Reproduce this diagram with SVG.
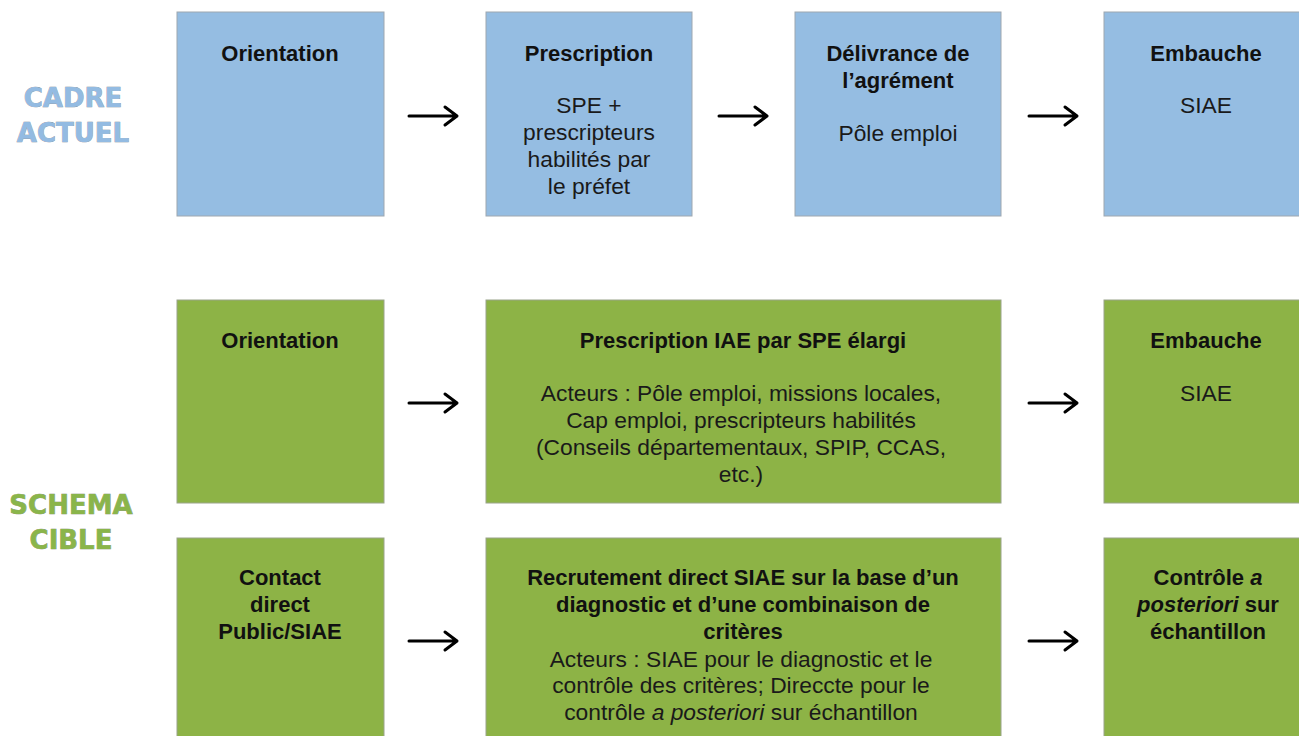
<svg xmlns="http://www.w3.org/2000/svg" width="1299" height="736" viewBox="0 0 1299 736">
<style>
.blue{fill:#95bde2;stroke:#9ea7b0;stroke-width:1}
.green{fill:#8db346;stroke:#9aa48a;stroke-width:1}
.t{font-family:"Liberation Sans",Arial,sans-serif;font-size:22.8px;fill:#1a1a1a;text-anchor:middle}
.b{font-weight:bold;font-size:22px;fill:#111}
.lab{font-family:"DejaVu Sans","Liberation Sans",sans-serif;font-weight:bold;font-size:26px;text-anchor:middle;stroke-width:0.6px;paint-order:stroke}
.arr{fill:none;stroke:#000;stroke-width:3;stroke-linecap:round;stroke-linejoin:round}
</style>
<rect width="1299" height="736" fill="#fff"/>
<g id="labels">
<text class="lab" x="73" y="107" fill="#93bbe2" stroke="#7d8a97">CADRE</text>
<text class="lab" x="73" y="142" fill="#93bbe2" stroke="#7d8a97">ACTUEL</text>
<text class="lab" x="71" y="514" fill="#8ab54a" stroke="#7d8a6a">SCHEMA</text>
<text class="lab" x="71" y="549" fill="#8ab54a" stroke="#7d8a6a">CIBLE</text>
</g>
<g id="n1">
<rect class="blue" x="177" y="12" width="207" height="204"/>
<text class="t b" x="280" y="61">Orientation</text>
</g>
<g id="n2">
<rect class="blue" x="486" y="12" width="206" height="204"/>
<text class="t b" x="589" y="61">Prescription</text>
<text class="t" x="589" y="113">SPE +</text>
<text class="t" x="589" y="140">prescripteurs</text>
<text class="t" x="589" y="167">habilités par</text>
<text class="t" x="589" y="194">le préfet</text>
</g>
<g id="n3">
<rect class="blue" x="795" y="12" width="206" height="204"/>
<text class="t b" x="898" y="61">Délivrance de</text>
<text class="t b" x="898" y="88">l’agrément</text>
<text class="t" x="898" y="141">Pôle emploi</text>
</g>
<g id="n4">
<rect class="blue" x="1104" y="12" width="210" height="204"/>
<text class="t b" x="1206" y="61">Embauche</text>
<text class="t" x="1206" y="113">SIAE</text>
</g>
<g id="n5">
<rect class="green" x="177" y="300" width="207" height="203"/>
<text class="t b" x="280" y="348">Orientation</text>
</g>
<g id="n6">
<rect class="green" x="486" y="300" width="515" height="203"/>
<text class="t b" x="743" y="348">Prescription IAE par SPE élargi</text>
<text class="t" x="741" y="401">Acteurs : Pôle emploi, missions locales,</text>
<text class="t" x="741" y="428">Cap emploi, prescripteurs habilités</text>
<text class="t" x="741" y="455">(Conseils départementaux, SPIP, CCAS,</text>
<text class="t" x="741" y="482">etc.)</text>
</g>
<g id="n7">
<rect class="green" x="1104" y="300" width="210" height="203"/>
<text class="t b" x="1206" y="348">Embauche</text>
<text class="t" x="1206" y="401">SIAE</text>
</g>
<g id="n8">
<rect class="green" x="177" y="538" width="207" height="210"/>
<text class="t b" x="280" y="585">Contact</text>
<text class="t b" x="280" y="612">direct</text>
<text class="t b" x="280" y="639">Public/SIAE</text>
</g>
<g id="n9">
<rect class="green" x="486" y="538" width="515" height="210"/>
<text class="t b" x="743" y="585">Recrutement direct SIAE sur la base d’un</text>
<text class="t b" x="743" y="612">diagnostic et d’une combinaison de</text>
<text class="t b" x="743" y="639">critères</text>
<text class="t" x="741" y="667">Acteurs : SIAE pour le diagnostic et le</text>
<text class="t" x="741" y="693">contrôle des critères; Direccte pour le</text>
<text class="t" x="741" y="720">contrôle <tspan font-style="italic">a posteriori</tspan> sur échantillon</text>
</g>
<g id="n10">
<rect class="green" x="1104" y="538" width="210" height="210"/>
<text class="t b" x="1208" y="585">Contrôle <tspan font-style="italic">a</tspan></text>
<text class="t b" x="1208" y="612"><tspan font-style="italic">posteriori</tspan> sur</text>
<text class="t b" x="1208" y="639">échantillon</text>
</g>
<g id="connectors">
<path class="arr" d="M409 116H456M445 107L457 116L445 125"/>
<path class="arr" d="M719 116H766M755 107L767 116L755 125"/>
<path class="arr" d="M1029 116H1076M1065 107L1077 116L1065 125"/>
<path class="arr" d="M409 403H456M445 394L457 403L445 412"/>
<path class="arr" d="M1029 403H1076M1065 394L1077 403L1065 412"/>
<path class="arr" d="M409 641H456M445 632L457 641L445 650"/>
<path class="arr" d="M1029 641H1076M1065 632L1077 641L1065 650"/>
</g>
</svg>
